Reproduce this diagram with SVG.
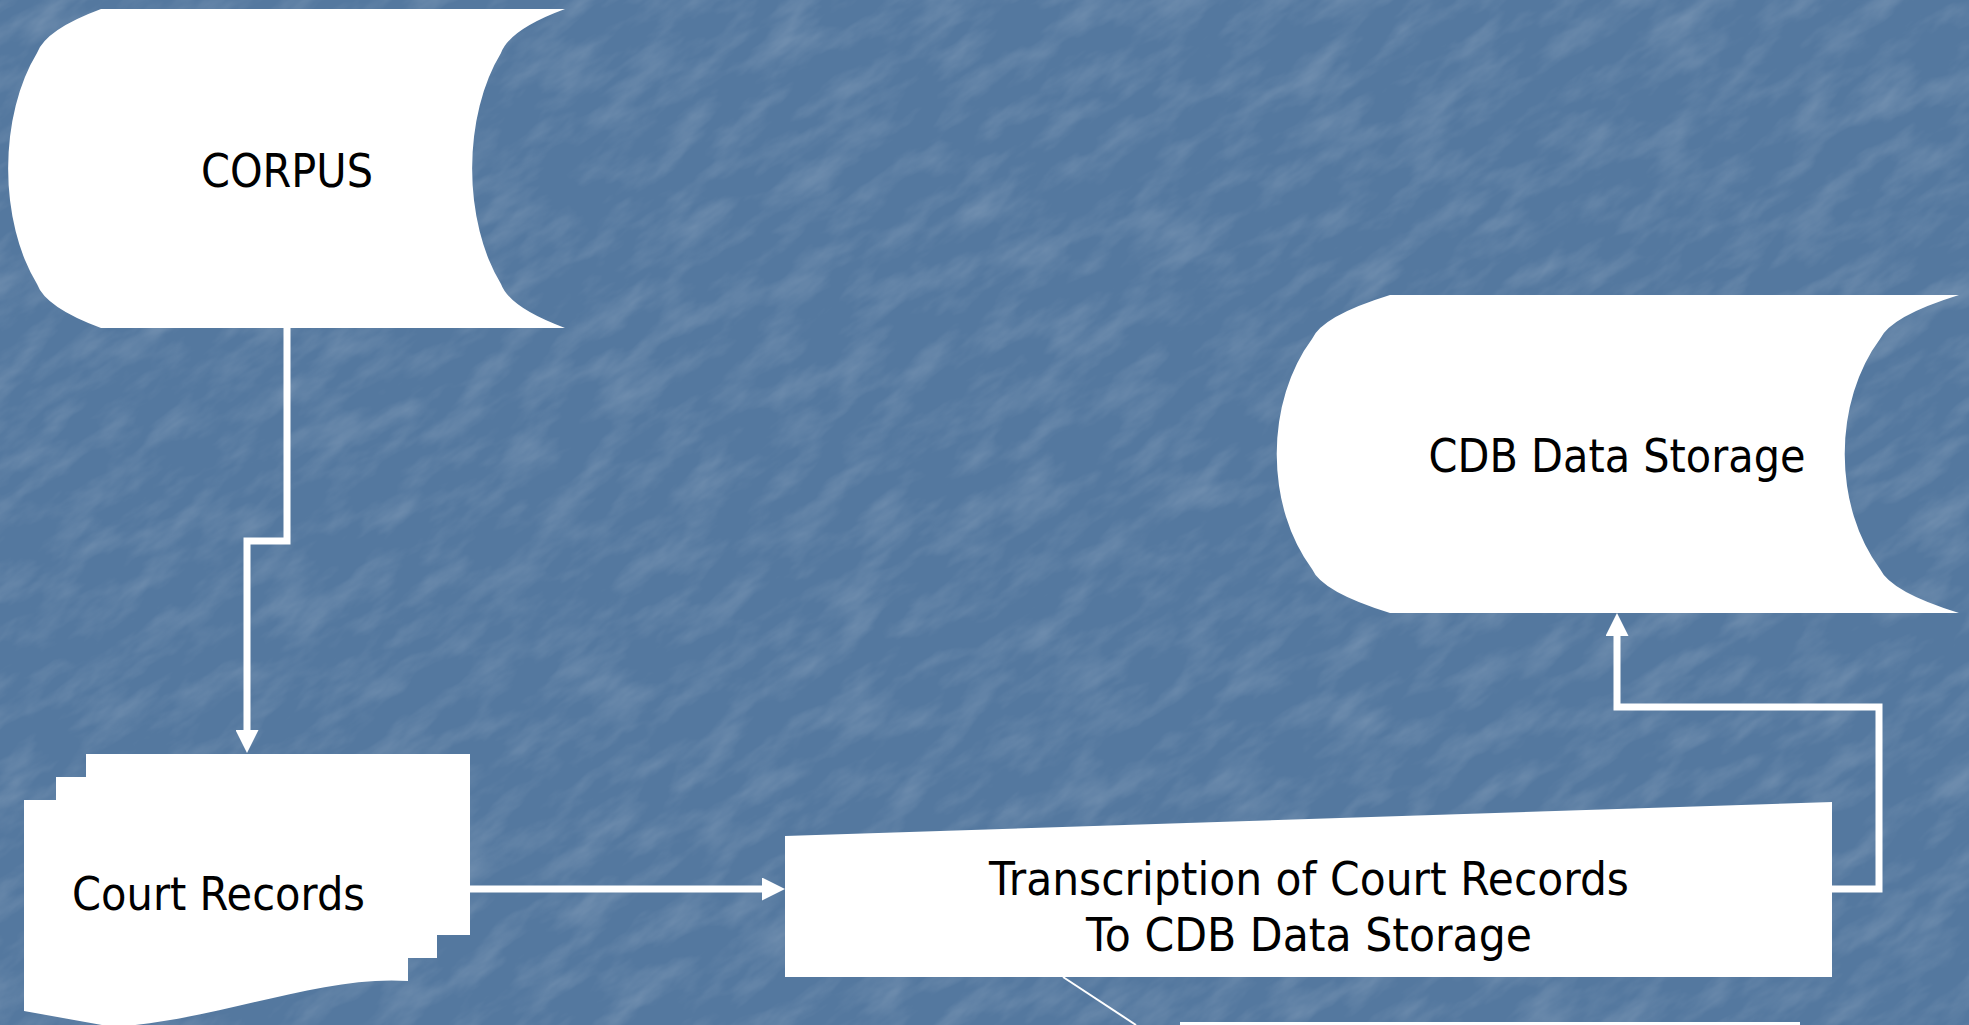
<svg xmlns="http://www.w3.org/2000/svg" width="1969" height="1025" viewBox="0 0 1969 1025">
  <style>
    .node { fill: #ffffff; stroke: none; }
    .label { font-family: "DejaVu Sans", "Liberation Sans", sans-serif; font-size: 46px; fill: #000000; text-anchor: middle; }
    .conn { fill: none; stroke: #ffffff; stroke-width: 7; stroke-linejoin: miter; stroke-linecap: butt; }
    .thin { fill: none; stroke: #ffffff; stroke-width: 2; }
  </style>
  <defs>
    <marker id="arrow" markerUnits="userSpaceOnUse" markerWidth="23" markerHeight="23" refX="0" refY="11.5" orient="auto">
      <path d="M0,0 L23,11.5 L0,23 Z" fill="#ffffff"/>
    </marker>
    <filter id="tex" x="0" y="0" width="100%" height="100%">
      <feTurbulence type="fractalNoise" baseFrequency="0.015 0.04" numOctaves="4" seed="7"/>
      <feColorMatrix type="matrix" values="0 0 0 0 1  0 0 0 0 1  0 0 0 0 1  1.3 0 0 0 -0.55"/>
    </filter>
  </defs>

  <!-- background -->
  <rect x="0" y="0" width="1969" height="1025" fill="#54789f"/>
  <g transform="rotate(-35 985 512)">
    <rect x="-600" y="-900" width="3200" height="2800" filter="url(#tex)" opacity="0.25"/>
  </g>

  <g id="connectors">
    <path class="conn" d="M287,328 V541 H247 V730" marker-end="url(#arrow)"/>
    <path class="conn" d="M470,889 H762" marker-end="url(#arrow)"/>
    <path class="conn" d="M1832,889 H1879 V707 H1617 V636" marker-end="url(#arrow)"/>
    <path class="thin" d="M1063,977 L1136,1025"/>
  </g>

  <g id="corpus">
    <path class="node" d="M101,9 L565,9 Q509.5,29.5 501,53 A93,159.5 0 0 0 501,284 Q509.5,307.5 565,328 L101,328 Q45.5,307.5 37,284 A93,159.5 0 0 1 37,53 Q45.5,29.5 101,9 Z"/>
    <text class="label" x="287" y="187" textLength="172" lengthAdjust="spacingAndGlyphs">CORPUS</text>
  </g>

  <g id="cdb-data-storage">
    <path class="node" d="M1390,295 L1959,295 Q1891,316 1880,339 A114,159 0 0 0 1880,569 Q1891,592 1959,613 L1390,613 Q1322,592 1312,569 A114,159 0 0 1 1312,339 Q1322,316 1390,295 Z"/>
    <text class="label" x="1617" y="472" textLength="377" lengthAdjust="spacingAndGlyphs">CDB Data Storage</text>
  </g>

  <g id="court-records">
    <path class="node" d="M24,800 L56,800 L56,777 L86,777 L86,754 L470,754 L470,935 L437,935 L437,958 L408,958 L408,981 C320,975 220,1020 113,1027 L24,1011 Z"/>
    <text class="label" x="218.5" y="910" textLength="293" lengthAdjust="spacingAndGlyphs">Court Records</text>
  </g>

  <g id="transcription">
    <path class="node" d="M785,836 L1832,802 L1832,977 L785,977 Z"/>
    <text class="label" x="1309" y="895" textLength="640" lengthAdjust="spacingAndGlyphs">Transcription of Court Records</text>
    <text class="label" x="1309" y="951" textLength="446" lengthAdjust="spacingAndGlyphs">To CDB Data Storage</text>
  </g>

  <g id="bottom-node">
    <rect class="node" x="1180" y="1022" width="620" height="20"/>
  </g>
</svg>
